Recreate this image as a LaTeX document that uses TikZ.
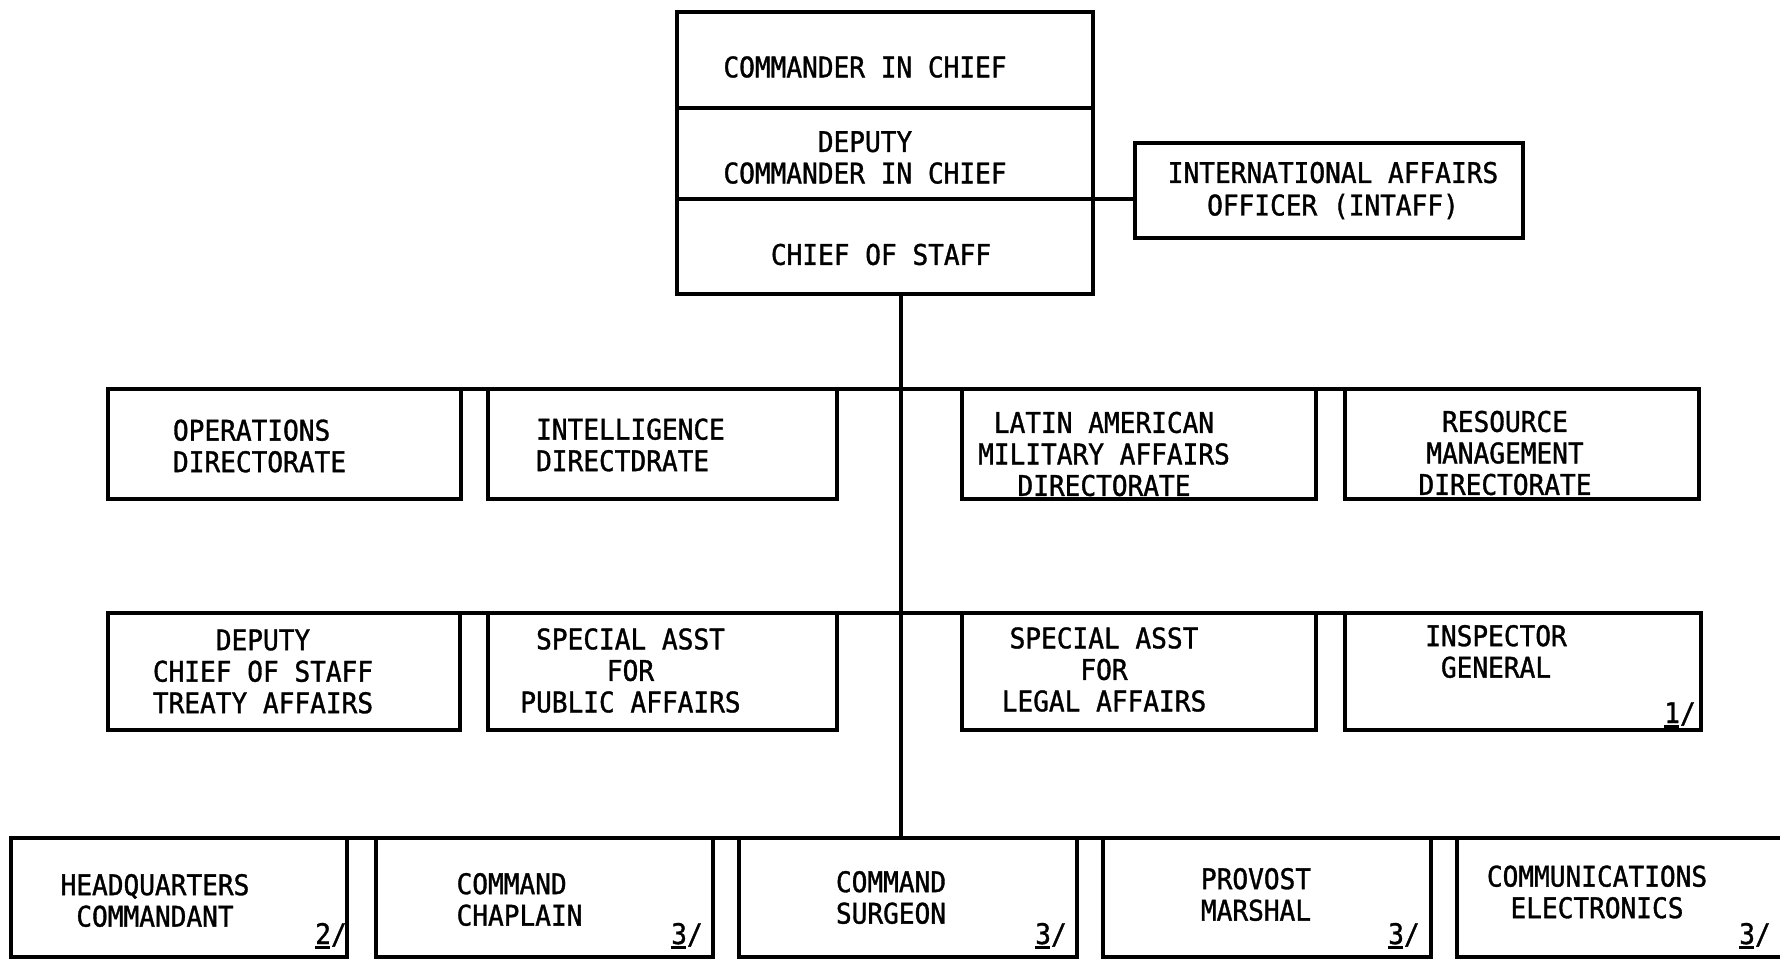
\documentclass[tikz,border=0pt]{standalone}
\usepackage{fontspec}
\newfontfamily\typer[FakeStretch=0.92, FakeBold=1.2]{DejaVu Sans Mono}
\usepackage{tikz}
\usetikzlibrary{positioning}
\tikzset{
  unitbox/.style={draw, line width=3.3pt, rectangle, inner sep=0pt, outer sep=0pt, anchor=north west},
  unittext/.style={font=\typer\fontsize{28.4}{31.5}\selectfont, inner sep=0pt, align=center},
  bus/.style={line width=3.3pt},
}
% footnote mark, typed underline under the digit
\newcommand\fnmark[1]{\rlap{\rule[-5pt]{15pt}{3pt}}#1/}

\begin{document}
\begin{tikzpicture}[x=1pt, y=-1pt]

  \clip (0,0) rectangle (1780,959);
  \fill[white] (0,0) rectangle (1780,959);

  % command group
  \node[unitbox, minimum width=416pt, minimum height=96pt] (cinc) at (677,12) {};
  \node[unitbox, minimum width=416pt, minimum height=91pt] (dcinc) at (677,108) {};
  \node[unitbox, minimum width=416pt, minimum height=95pt] (cos) at (677,199) {};
  \node[unitbox, minimum width=388pt, minimum height=95pt] (intaff) at (1135,143) {};

  \node[unittext] (cincT) at ([shift={(-20,7)}]cinc.center) {COMMANDER IN CHIEF};
  \node[unittext] (dcincT) at ([shift={(-20,4)}]dcinc.center) {DEPUTY\\COMMANDER IN CHIEF};
  \node[unittext] (cosT) at ([shift={(-4,8)}]cos.center) {CHIEF OF STAFF};
  \node[unittext] (intaffT) at ([shift={(4,0)}]intaff.center)
    {INTERNATIONAL AFFAIRS\\[1pt]OFFICER (INTAFF)};

  % directorates
  \node[unitbox, minimum width=353pt, minimum height=110pt] (ops) at (108,389) {};
  \node[unitbox, minimum width=349pt, minimum height=110pt] (intel) at (488,389) {};
  \node[unitbox, minimum width=354pt, minimum height=110pt] (latam) at (962,389) {};
  \node[unitbox, minimum width=354pt, minimum height=110pt] (res) at (1345,389) {};

  \node[unittext, align=left] (opsT) at ([shift={(-25,2)}]ops.center) {OPERATIONS\\DIRECTORATE};
  \node[unittext, align=left] (intelT) at ([shift={(-32,1)}]intel.center) {INTELLIGENCE\\DIRECTDRATE};
  \node[unittext] (latamT) at ([shift={(-35,10)}]latam.center)
    {LATIN AMERICAN\\MILITARY AFFAIRS\\DIRECTORATE};
  \node[unittext] (resT) at ([shift={(-17,9)}]res.center) {RESOURCE\\MANAGEMENT\\DIRECTORATE};

  % special staff
  \node[unitbox, minimum width=352pt, minimum height=117pt] (dcos) at (108,613) {};
  \node[unitbox, minimum width=349pt, minimum height=117pt] (pao) at (488,613) {};
  \node[unitbox, minimum width=354pt, minimum height=117pt] (sja) at (962,613) {};
  \node[unitbox, minimum width=356pt, minimum height=117pt] (ig) at (1345,613) {};

  \node[unittext] (dcosT) at ([shift={(-21,0)}]dcos.center)
    {DEPUTY\\CHIEF OF STAFF\\TREATY AFFAIRS};
  \node[unittext] (paoT) at ([shift={(-32,-1)}]pao.center) {SPECIAL ASST\\FOR\\PUBLIC AFFAIRS};
  \node[unittext] (sjaT) at ([shift={(-35,-2)}]sja.center) {SPECIAL ASST\\FOR\\LEGAL AFFAIRS};
  \node[unittext] (igT) at ([shift={(-27,-20)}]ig.center) {INSPECTOR\\GENERAL};
  \node[unittext, anchor=base] (igN) at ([shift={(-21,-7)}]ig.south east) {\fnmark{1}};

  % personal staff
  \node[unitbox, minimum width=336pt, minimum height=119pt] (hq) at (11,838) {};
  \node[unitbox, minimum width=337pt, minimum height=119pt] (chap) at (376,838) {};
  \node[unitbox, minimum width=338pt, minimum height=119pt] (surg) at (739,838) {};
  \node[unitbox, minimum width=328pt, minimum height=119pt] (pm) at (1103,838) {};
  \node[unitbox, minimum width=353pt, minimum height=119pt] (comms) at (1457,838) {};

  \node[unittext] (hqT) at ([shift={(-24,3)}]hq.center) {HEADQUARTERS\\COMMANDANT};
  \node[unittext, align=left] (chapT) at ([shift={(-25,2)}]chap.center) {COMMAND\\CHAPLAIN};
  \node[unittext, align=left] (surgT) at ([shift={(-17,0)}]surg.center) {COMMAND\\SURGEON};
  \node[unittext] (pmT) at ([shift={(-11,-3)}]pm.center) {PROVOST\\MARSHAL};
  \node[unittext] (commsT) at ([shift={(140,54)}]comms.north west) {COMMUNICATIONS\\ELECTRONICS};

  \node[unittext, anchor=base] (hqN) at ([shift={(-16,-13)}]hq.south east) {\fnmark{2}};
  \node[unittext, anchor=base] (chapN) at ([shift={(-26,-13)}]chap.south east) {\fnmark{3}};
  \node[unittext, anchor=base] (surgN) at ([shift={(-26,-13)}]surg.south east) {\fnmark{3}};
  \node[unittext, anchor=base] (pmN) at ([shift={(-27,-13)}]pm.south east) {\fnmark{3}};
  \node[unittext, anchor=base] (commsN) at ([shift={(298,106)}]comms.north west) {\fnmark{3}};

  % lines
  \coordinate (trunk) at ([shift={(16,0)}]cos.south);
  \draw[bus] (trunk) -- (trunk |- hq.north);
  \draw[bus] (dcinc.south east) -- (dcinc.south east -| intaff.west);
  \draw[bus] (ops.north west) -- (res.north east);
  \draw[bus] (dcos.north west) -- (ig.north east);
  \draw[bus] (hq.north west) -- (comms.north east);

\end{tikzpicture}
\end{document}
